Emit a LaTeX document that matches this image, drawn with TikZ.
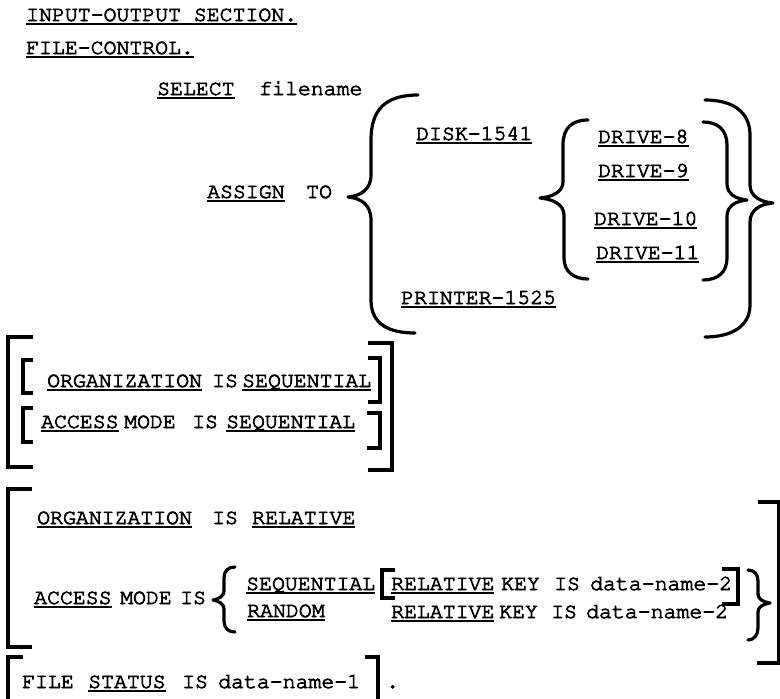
\documentclass[tikz,border=0pt]{standalone}
\usepackage[T1]{fontenc}
\usepackage{courier}
\newsavebox\ulbox
\newcommand\ulw[1]{\sbox\ulbox{#1}\rlap{\rule[-4.0pt]{\wd\ulbox}{1.9pt}}\usebox\ulbox}
\newcommand\inkthick{\special{pdf:literal direct 2 Tr 0.75 w}}
\tikzset{
  txt/.style={anchor=base west, inner sep=0pt, font=\fontsize{21.5}{24}\fontfamily{pcr}\selectfont\inkthick},
  brk/.style={line width=3.2pt, line join=miter, line cap=butt},
  brc/.style={line width=3.2pt, line cap=round, line join=round},
}
\begin{document}
\begin{tikzpicture}[x=1pt,y=-1pt]
\useasboundingbox (0,0) rectangle (780,699);
\fill[white] (0,0) rectangle (780,699);
% header
\node[txt] (ios) at (26,21) {\ulw{INPUT-OUTPUT SECTION.}};
\node[txt] (fc) at (26,54) {\ulw{FILE-CONTROL.}};
\node[txt] (sel) at (157,95) {\ulw{SELECT}};
\node[txt] (fn) at (259,95) {filename};
\node[txt] (asg) at (207,198) {\ulw{ASSIGN}};
\node[txt] (to) at (306,198) {TO};
% devices
\node[txt] (disk) at (416,140) {\ulw{DISK-1541}};
\node[txt] (dr8) at (598,143) {\ulw{DRIVE-8}};
\node[txt] (dr9) at (598,177) {\ulw{DRIVE-9}};
\node[txt] (dr10) at (594,225) {\ulw{DRIVE-10}};
\node[txt] (dr11) at (596,259) {\ulw{DRIVE-11}};
\node[txt] (prn) at (401,304) {\ulw{PRINTER-1525}};
% braces of ASSIGN
\draw[brc] (418,95) .. controls (385,95) and (371,110) .. (371,140) -- (371,175)
  .. controls (371,190) and (360,196) .. (348,197)
  .. controls (360,198) and (371,204) .. (371,220) -- (371,300)
  .. controls (371,325) and (390,333) .. (415,333);
\draw[brc] (588,120) .. controls (572,120) and (563,128) .. (563,145) -- (563,182)
  .. controls (563,192) and (552,197) .. (540,198)
  .. controls (552,199) and (564,204) .. (564,215) -- (564,258)
  .. controls (564,272) and (574,279) .. (588,279);
\draw[brc] (703,122) .. controls (718,122) and (727,130) .. (727,145) -- (727,184)
  .. controls (727,194) and (736,199) .. (747,200)
  .. controls (736,201) and (727,206) .. (727,216) -- (727,258)
  .. controls (727,272) and (718,280) .. (703,280);
\draw[brc] (705,100) .. controls (733,100) and (750,112) .. (750,135) -- (750,185)
  .. controls (750,196) and (760,202) .. (773,203)
  .. controls (760,204) and (750,210) .. (750,222) -- (750,305)
  .. controls (750,326) and (732,337) .. (705,337);
% sequential block
\draw[brk] (33,337) -- (8,337) -- (8,467) -- (33,467);
\draw[brk] (368,343) -- (392,343) -- (392,470) -- (368,470);
\draw[brk] (33,360) -- (23,360) -- (23,393) -- (33,393);
\draw[brk] (368,358) -- (380,358) -- (380,402) -- (368,402);
\draw[brk] (33,408) -- (23,408) -- (23,442) -- (33,442);
\draw[brk] (367,413) -- (380,413) -- (380,448) -- (367,448);
\node[txt] (org1) at (47,387) {\ulw{ORGANIZATION}};
\node[txt] (is1) at (212,387) {IS};
\node[txt] (seq1) at (242,387) {\ulw{SEQUENTIAL}};
\node[txt] (acc1) at (41,428) {\ulw{ACCESS}};
\node[txt] (mode1) at (124,428) {MODE};
\node[txt] (is2) at (192,428) {IS};
\node[txt] (seq2) at (226,428) {\ulw{SEQUENTIAL}};
% relative block
\draw[brk] (32,489) -- (8,489) -- (8,647) -- (32,647);
\draw[brk] (758,502) -- (779,502) -- (779,663) -- (757,663);
\node[txt] (org2) at (37,524) {\ulw{ORGANIZATION}};
\node[txt] (is3) at (212,524) {IS};
\node[txt] (rel) at (252,524) {\ulw{RELATIVE}};
\node[txt] (acc2) at (34,604) {\ulw{ACCESS}};
\node[txt] (mode2) at (120,604) {MODE};
\node[txt] (is4) at (180,604) {IS};
\draw[brc] (235,567) .. controls (228,567) and (224,571) .. (224,578) -- (224,591)
  .. controls (224,596) and (219,599) .. (213,600)
  .. controls (219,601) and (224,604) .. (224,609) -- (224,621)
  .. controls (224,628) and (228,632) .. (235,632);
\node[txt] (seq3) at (246,590) {\ulw{SEQUENTIAL}};
\node[txt] (rnd) at (247,617) {\ulw{RANDOM}};
\draw[brk] (395,570) -- (382,570) -- (382,598) -- (395,598);
\draw[brk] (722,569) -- (738,569) -- (738,604) -- (722,604);
\node[txt] (rk1) at (391,590) {\ulw{RELATIVE}};
\node[txt] (key1) at (501,590) {KEY};
\node[txt] (is5) at (554,590) {IS};
\node[txt] (dn1) at (590,590) {data-name-2};
\node[txt] (rk2) at (391,618) {\ulw{RELATIVE}};
\node[txt] (key2) at (499,618) {KEY};
\node[txt] (is6) at (551,618) {IS};
\node[txt] (dn2) at (586,618) {data-name-2};
\draw[brc] (748,570) .. controls (754,570) and (758,574) .. (758,581) -- (758,594)
  .. controls (758,599) and (763,602) .. (770,603)
  .. controls (763,604) and (758,607) .. (758,612) -- (758,628)
  .. controls (758,635) and (754,640) .. (748,640);
% file status
\draw[brk] (23,657) -- (8,657) -- (8,702);
\draw[brk] (365,657) -- (378,657) -- (378,702);
\node[txt] (file) at (22,688) {FILE};
\node[txt] (stat) at (88,688) {\ulw{STATUS}};
\node[txt] (is7) at (182,688) {IS};
\node[txt] (dn3) at (218,688) {data-name-1};
\node[txt] (dot) at (386,688) {.};
\end{tikzpicture}
\end{document}
